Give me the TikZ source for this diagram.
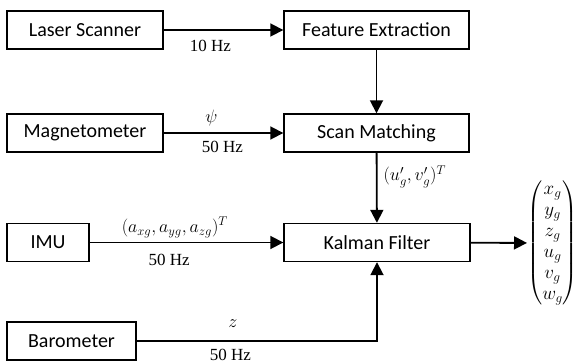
\RequirePackage{fix-cm}
\documentclass[tikz,border=0pt]{standalone}
\usepackage{amsmath}
\usepackage{fontspec}
\newfontfamily\boxfont{Carlito}
\newfontfamily\ratefont{Liberation Serif}
\usepackage{tikz}
\usetikzlibrary{arrows.meta}

\tikzset{
  block/.style={draw, line width=1.4pt, minimum height=38pt, inner sep=0pt,
    font=\boxfont\fontsize{20}{24}\selectfont},
  flow/.style={line width=1.8pt, -{Triangle[length=13pt,width=13pt]}},
  rate/.style={font=\ratefont\fontsize{17}{20}\selectfont, inner sep=0pt},
  signal/.style={font=\fontsize{18}{21}\selectfont, inner sep=0pt}
}

\begin{document}
\begin{tikzpicture}[x=1pt,y=-1pt]
\useasboundingbox (0,0) rectangle (577,363);
% Sensors
\node[block, minimum width=156pt] (laser) at (85,30) {Laser Scanner};
\node[block, minimum width=156pt] (magneto) at (85,133) {Magnetometer};
\node[block, minimum width=82pt] (imu) at (48,242.5) {IMU};
\node[block, minimum width=129pt] (baro) at (71.5,341) {Barometer};
% Processing
\node[block, minimum width=185pt] (feature) at (376.5,30) {Feature Extraction};
\node[block, minimum width=185pt] (scan) at (376.5,133) {Scan Matching};
\node[block, minimum width=186pt] (kalman) at (377,242.5) {Kalman Filter};
% State vector
\node[font=\fontsize{19}{21}\selectfont, inner sep=0pt, anchor=west] (state) at (527,243)
  {\setlength{\arraycolsep}{1.5pt}%
   $\left(\begin{matrix} x_g\\ y_g\\ z_g\\ u_g\\ v_g\\ w_g \end{matrix}\right)$};
%
% Measurements into the chain:
\draw[flow] (laser) -- (feature)
  node[rate, pos=.39, yshift=-16pt] (laserrate) {10 Hz};
\draw[flow] (feature) -- (scan);
\draw[flow] (magneto) -- (scan)
  node[signal, pos=.40, yshift=15pt] (psi) {$\psi$}
  node[rate, pos=.49, yshift=-14pt] (magrate) {50 Hz};
\draw[flow] (scan) -- (kalman)
  node[signal, pos=.34, anchor=west, xshift=6pt] (uv) {$(u'_g, v'_g)^T$};
\draw[flow] (imu) -- (kalman)
  node[signal, pos=.44, yshift=15pt] (acc) {$(a_{xg}, a_{yg}, a_{zg})^T$}
  node[rate, pos=.41, yshift=-17pt] (imurate) {50 Hz};
\draw[flow] (baro) -| (kalman)
  node[signal, pos=.20, yshift=17pt] (zval) {$z$}
  node[rate, pos=.195, yshift=-14pt] (barorate) {50 Hz};
% Output
\draw[flow] (kalman) -- (state);
\end{tikzpicture}
\end{document}
